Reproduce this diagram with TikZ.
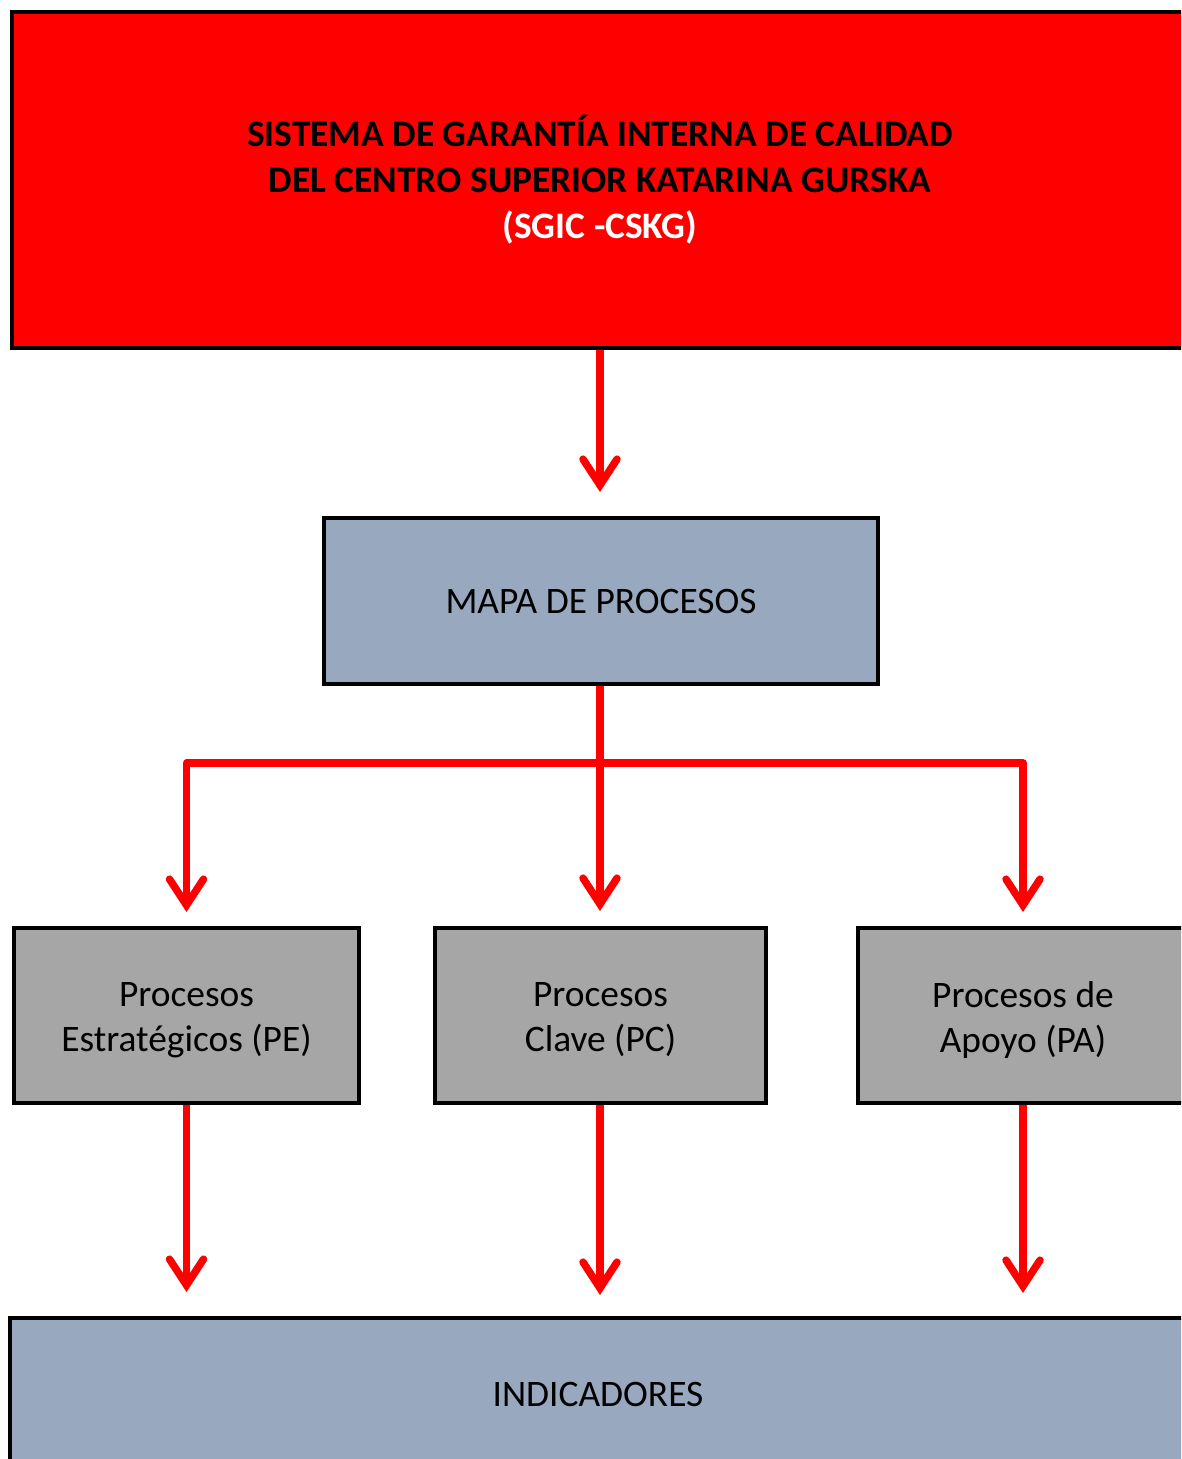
\documentclass[tikz,border=0pt]{standalone}
\usepackage{fontspec}
\setmainfont{Carlito}
\usetikzlibrary{arrows.meta}
\definecolor{boxblue}{RGB}{152,169,191}
\definecolor{boxgray}{RGB}{166,166,166}
\definecolor{pured}{RGB}{255,0,0}
\tikzset{
  box/.style={draw=black, line width=4pt, rectangle, align=center, inner sep=0pt,
    font=\fontsize{37.4}{45}\selectfont},
  proc/.style={box, fill=boxgray, minimum height=175pt,
    label={[align=center, inner sep=0pt, yshift=-4.5pt, font=\fontsize{37.4}{45}\selectfont]center:#1}},
  redline/.style={draw=pured, line width=7.5pt, line join=round},
  arr/.style={redline, -{Straight Barb[length=26pt,width=34pt,line cap=round,line join=miter]}},
}
\begin{document}
\begin{tikzpicture}[x=1pt,y=-1pt]
\useasboundingbox (0,0) rectangle (1181,1459);
\clip (0,0) rectangle (1181,1459);
\node[box, fill=pured, minimum width=1176pt, minimum height=335.5pt,
  font=\fontsize{37.4}{46}\selectfont\bfseries] (top) at (600,180)
  {SISTEMA DE GARANTÍA INTERNA DE CALIDAD\\DEL CENTRO SUPERIOR KATARINA GURSKA\\\textcolor{white}{(SGIC -CSKG)}};
\node[box, fill=boxblue, minimum width=554pt, minimum height=166pt] (mapa) at (601,601) {MAPA DE PROCESOS};
\node[proc={Procesos\\Estratégicos (PE)}, minimum width=345pt] (pe) at (186.5,1015.5) {};
\node[proc={Procesos\\Clave (PC)}, minimum width=331pt] (pc) at (600.5,1015.5) {};
\node[proc={Procesos de\\Apoyo (PA)}, minimum width=330pt] (pa) at (1023,1015.5) {};
\node[box, fill=boxblue, minimum width=1176pt, minimum height=152pt] (ind) at (598,1394) {INDICADORES};
\coordinate (split) at (600,763);
\draw[arr, shorten >=24pt] (top.south -| 600,0) -- (mapa.north -| 600,0);
\draw[arr, shorten >=15pt] (mapa.south -| 600,0) -- (pc.north -| 600,0);
\draw[arr, shorten >=14pt] (split) -| (pe.north);
\draw[arr, shorten >=14pt] (split) -| (pa.north);
\draw[arr, shorten >=24pt] (pe.south) -- (ind.north -| pe.south);
\draw[arr, shorten >=21pt] (pc.south -| 600,0) -- (ind.north -| 600,0);
\draw[arr, shorten >=23pt] (pa.south) -- (ind.north -| pa.south);
\end{tikzpicture}
\end{document}
